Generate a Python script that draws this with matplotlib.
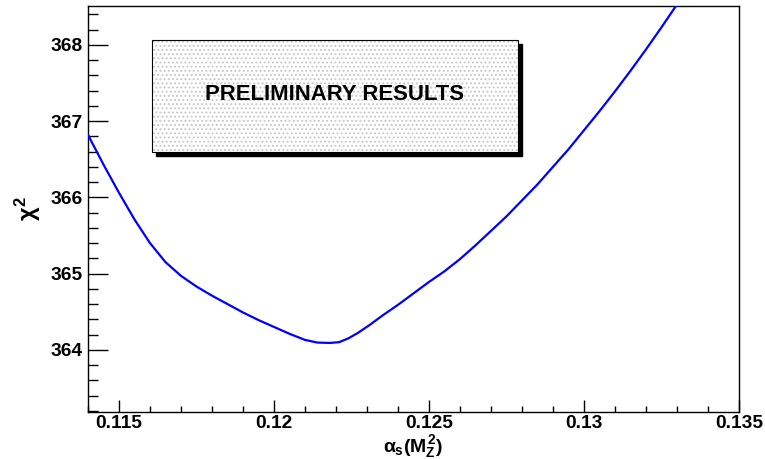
import numpy as np
import matplotlib.pyplot as plt
from matplotlib.patches import Rectangle
from matplotlib.ticker import MultipleLocator

# chi2 scan vs alpha_s(MZ^2)
alpha_s = [0.1140, 0.1145, 0.1150, 0.1155, 0.1160, 0.1165, 0.1170, 0.1175,
           0.1180, 0.1185, 0.1190, 0.1195, 0.1200, 0.1205, 0.1210, 0.1214,
           0.1218, 0.1221, 0.1224, 0.1227, 0.1231, 0.1235, 0.1240, 0.1245,
           0.1250, 0.1255, 0.1260, 0.1265, 0.1270, 0.1275, 0.1280, 0.1285,
           0.1290, 0.1295, 0.1300, 0.1305, 0.1310, 0.1315, 0.1320, 0.1325,
           0.1330, 0.1333]
chi2 = [366.82, 366.43, 366.06, 365.71, 365.40, 365.15, 364.97, 364.83,
        364.71, 364.60, 364.49, 364.39, 364.30, 364.21, 364.13, 364.095,
        364.09, 364.10, 364.15, 364.22, 364.33, 364.45, 364.59, 364.74,
        364.89, 365.03, 365.19, 365.37, 365.56, 365.75, 365.96, 366.17,
        366.40, 366.63, 366.88, 367.13, 367.39, 367.66, 367.94, 368.23,
        368.53, 368.71]

plt.rcParams['font.family'] = ['Liberation Sans', 'DejaVu Sans']
plt.rcParams['mathtext.fontset'] = 'custom'
plt.rcParams['mathtext.rm'] = 'Liberation Sans:bold'
plt.rcParams['mathtext.bf'] = 'Liberation Sans:bold'
plt.rcParams['mathtext.it'] = 'Liberation Sans:bold'
plt.rcParams['hatch.linewidth'] = 0.9

fig = plt.figure(figsize=(7.65, 4.59), dpi=100)
ax = fig.add_axes([0.115, 0.1017, 0.851, 0.8853])

ax.plot(alpha_s, chi2, color='#0000ff', linewidth=1.6, zorder=3,
        solid_joinstyle='round')

ax.set_xlim(0.114, 0.135)
ax.set_ylim(363.18, 368.51)

ax.xaxis.set_minor_locator(MultipleLocator(0.001))
ax.yaxis.set_minor_locator(MultipleLocator(0.2))
ax.set_xticks([0.115, 0.12, 0.125, 0.13, 0.135])
ax.set_xticklabels(['0.115', '0.12', '0.125', '0.13', '0.135'])
ax.set_yticks([364, 365, 366, 367, 368])
ax.set_yticklabels(['364', '365', '366', '367', '368'])

ax.tick_params(axis='both', which='both', direction='in', width=1.0,
               labelsize=13.8)
ax.tick_params(axis='y', which='major', length=14.4, pad=4)
ax.tick_params(axis='y', which='minor', length=7.2)
ax.tick_params(axis='x', which='major', length=8.4, pad=2)
ax.tick_params(axis='x', which='minor', length=4.2)
for lab in ax.get_xticklabels() + ax.get_yticklabels():
    lab.set_fontweight('bold')
for s in ax.spines.values():
    s.set_linewidth(1.0)

fig.text(0.539, 0.028, r'$\alpha_{s}(M_{Z}^{2})$', fontsize=14,
         ha='center', va='center')
fig.text(0.036, 0.545, r'$\chi^{2}$', fontsize=17, rotation=90,
         ha='center', va='center')

# "preliminary" pave with shadow
x0, x1, y0, y1 = 0.1983, 0.677, 0.6695, 0.9129
dx, dy = 4 / 765, 4 / 459
fig.patches.append(Rectangle((x0 + dx, y0 - dy), x1 - x0, y1 - y0,
                             transform=fig.transFigure, facecolor='black',
                             edgecolor='black', zorder=4))
fig.patches.append(Rectangle((x0, y0), x1 - x0, y1 - y0,
                             transform=fig.transFigure, facecolor='white',
                             edgecolor='#c8c8c8', hatch='....', linewidth=0,
                             zorder=5))
fig.patches.append(Rectangle((x0, y0), x1 - x0, y1 - y0,
                             transform=fig.transFigure, facecolor='none',
                             edgecolor='black', linewidth=0.8, zorder=6))
fig.text((x0 + x1) / 2, (y0 + y1) / 2 + 0.002, 'PRELIMINARY RESULTS',
         fontsize=15.9, fontweight='bold', ha='center', va='center',
         zorder=7)

fig.savefig('out.png', dpi=100)
